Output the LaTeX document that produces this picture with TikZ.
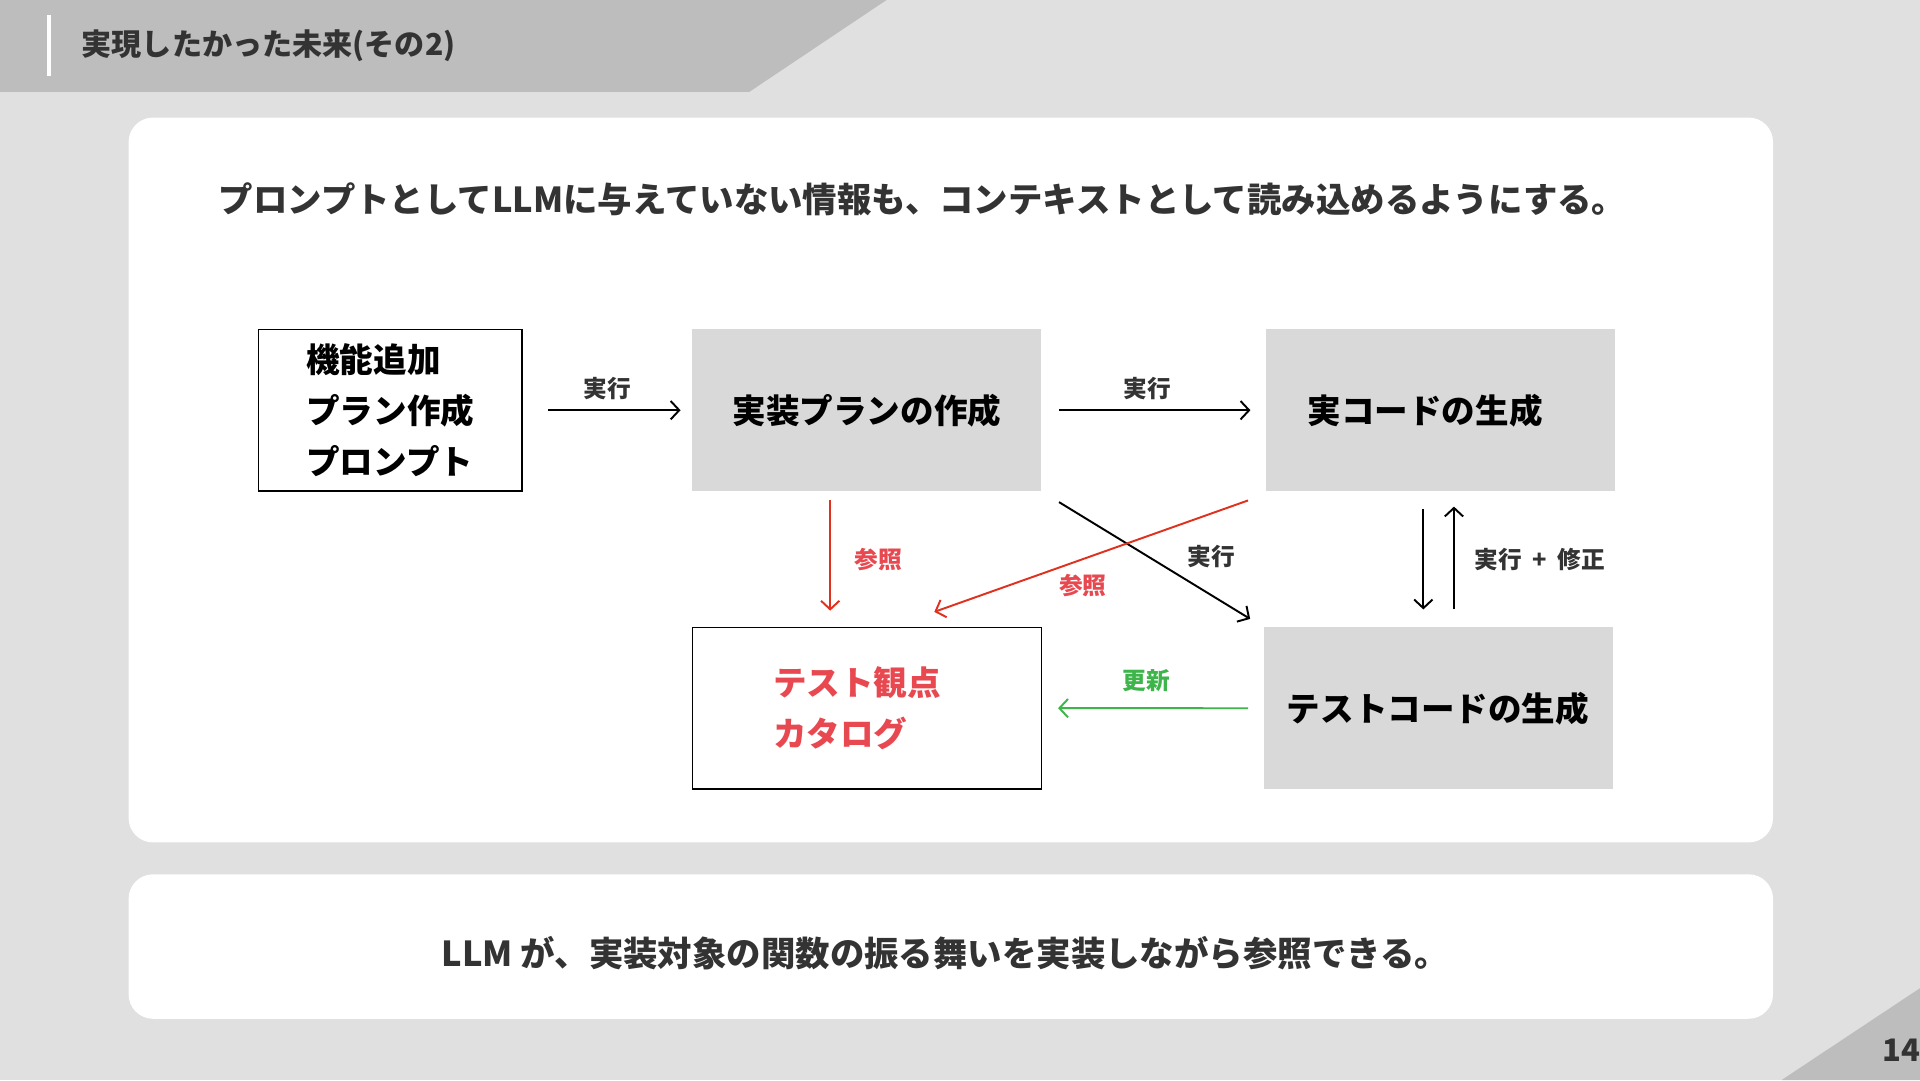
\documentclass[tikz,border=0pt]{standalone}
\usepackage{fontspec}
\setmainfont{Noto Sans CJK JP}
\usepackage{tikz}
\usetikzlibrary{positioning,arrows.meta,calc}
\usepackage{xcolor}
\definecolor{bggray}{HTML}{E0E0E0}
\definecolor{bandgray}{HTML}{BDBDBD}
\definecolor{boxgray}{HTML}{D9D9D9}
\definecolor{textdark}{HTML}{333333}
\definecolor{accentred}{HTML}{E0301E}
\definecolor{labelred}{HTML}{E8484F}
\definecolor{accentgreen}{HTML}{3DB54A}
\tikzset{
  grnode/.style={
    fill=boxgray, minimum width=28.5mm, minimum height=13.2mm,
    inner sep=0pt, font=\fontsize{7.8}{11.8}\selectfont\bfseries
  },
  wnode/.style={
    draw=black, fill=white, line width=0.35pt, minimum height=13.2mm,
    inner sep=0pt, align=left, font=\fontsize{7.8}{11.8}\selectfont\bfseries
  },
  arr/.style={
    -{Straight Barb[length=0.7mm,width=1.5mm]}, line width=0.45pt, black
  },
  arrred/.style={arr, accentred},
  arrgreen/.style={arr, accentgreen},
  edgelabel/.style={
    font=\fontsize{5.5}{6}\selectfont\bfseries, text=textdark, inner sep=0pt
  },
  heading/.style={
    font=\fontsize{8}{9}\selectfont\bfseries, text=textdark, inner sep=0pt
  }
}

\begin{document}
\begin{tikzpicture}[x=0.1mm, y=-0.1mm, node distance=11mm and 18.2mm]
% fondo
\useasboundingbox (0,0) rectangle (1568,882);
\fill[bggray] (0,0) rectangle (1568,882);
\fill[bandgray] (0,0) -- (724,0) -- (612,75) -- (0,75) -- cycle;
\fill[white] (38,12) rectangle (42,62);
\fill[bandgray] (1568,807) -- (1568,882) -- (1455,882) -- cycle;
\fill[white, rounded corners=2mm] (105,96) rectangle (1448,688);
\fill[white, rounded corners=2mm] (105,714) rectangle (1448,832);

% textos
\node[heading, anchor=west, font=\fontsize{7}{8}\selectfont\bfseries] (title) at (66,37) {実現したかった未来(その2)};
\node[heading, anchor=west] (lead) at (178,163) {プロンプトとしてLLMに与えていない情報も、コンテキストとして読み込めるようにする。};
\node[heading] (summary) at (772,778) {LLM が、実装対象の関数の振る舞いを実装しながら参照できる。};
\node[heading, anchor=west, font=\fontsize{7.2}{8}\selectfont\bfseries] (page) at (1537,858) {14};

% nodos
\node[grnode] (plan) at (708,335) {実装プランの作成};
\node[wnode, minimum width=21.5mm, left=13.8mm of plan] (prompt) {機能追加\\プラン作成\\プロンプト};
\node[grnode, right=18.2mm of plan, text width=21.7mm, inner xsep=3.4mm, align=left] (impl) {実コードの生成};
\node[wnode, text width=15.3mm, inner xsep=6.6mm, text=labelred, below=11mm of plan] (catalog) {テスト観点\\カタログ};
\node[grnode, below=11mm of impl, xshift=-0.2mm] (test) {テストコードの生成};

% aristas
\draw[arr, shorten <=2.1mm, shorten >=0.9mm] (prompt) -- node[edgelabel, above=0.8mm] (l1) {実行} (plan);
\draw[arr, shorten <=1.4mm, shorten >=1.2mm] (plan) -- node[edgelabel, above=0.8mm, xshift=-0.5mm] (l2) {実行} (impl);
\draw[arrred, shorten <=0.7mm, shorten >=1.3mm] ([xshift=-3mm]plan.south) -- node[edgelabel, text=labelred, right=1.9mm] (l3) {参照} ([xshift=-3mm]plan.south |- catalog.north);
\draw[arr, shorten <=1.6mm, shorten >=1.2mm] (plan.south east) -- node[edgelabel, pos=0.768, above=2.2mm] (l4) {実行} (test.north west);
\draw[arrred] ([shift={(-14,7)}]impl.south west) -- node[edgelabel, text=labelred, pos=0.526, below=1.2mm] (l5) {参照} ([shift={(55,-12)}]catalog.north);
\draw[arr, shorten <=1.4mm, shorten >=1.4mm] ([xshift=-1.4mm]impl.south) -- ([xshift=-1.4mm]impl.south |- test.north);
\draw[arr, shorten <=1.4mm, shorten >=1.2mm] ([xshift=1.1mm]impl.south |- test.north) -- node[edgelabel, right=1.6mm] (l6) {実行\hspace{0.45em}+\hspace{0.45em}修正} ([xshift=1.1mm]impl.south);
\draw[arrgreen, shorten <=1.2mm, shorten >=1.3mm] (test) -- node[edgelabel, text=accentgreen, above=1.3mm, xshift=-0.5mm] (l7) {更新} (catalog);
\end{tikzpicture}
\end{document}
